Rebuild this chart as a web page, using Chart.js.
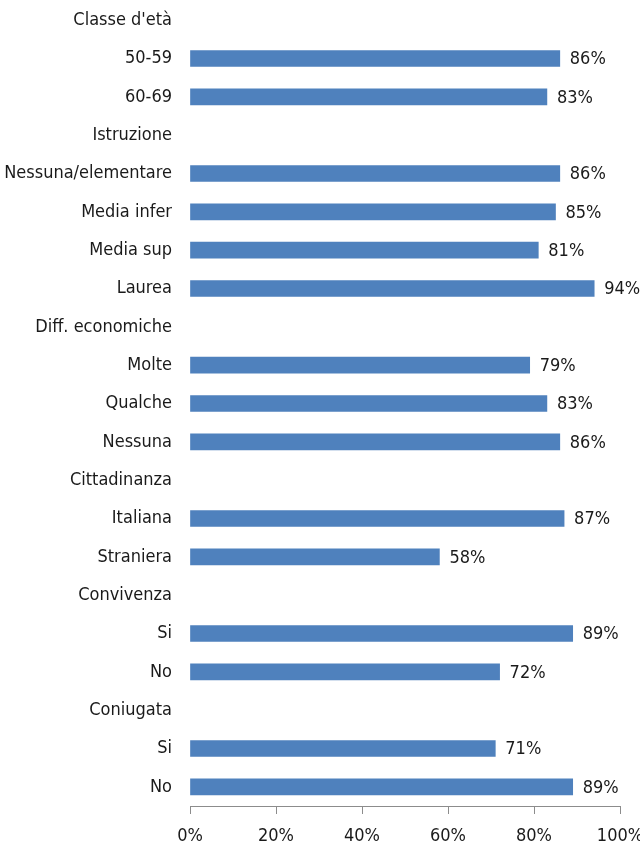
<!DOCTYPE html>
<html>
<head>
<meta charset="utf-8">
<script src="https://cdn.jsdelivr.net/npm/chart.js@4"></script>
<style>
  body { margin: 0; background: #fff; }
  canvas { display: block; }
</style>
</head>
<body>
<canvas id="myGraphic" width="640" height="854"></canvas>
<script>
// categories (group headers have no bar)
const labels = [
	"Classe d'età", "50-59", "60-69",
	"Istruzione", "Nessuna/elementare", "Media infer", "Media sup", "Laurea",
	"Diff. economiche", "Molte", "Qualche", "Nessuna",
	"Cittadinanza", "Italiana", "Straniera",
	"Convivenza", "Si", "No",
	"Coniugata", "Si", "No",
];
const values = [
	null, 86, 83,
	null, 86, 85, 81, 94,
	null, 79, 83, 86,
	null, 87, 58,
	null, 89, 72,
	null, 71, 89,
];
const xTicks = [0, 20, 40, 60, 80, 100];

const fontFamily = "'DejaVu Sans Condensed', 'Liberation Sans Narrow', sans-serif";
const textColor = "#1a1a1a";

const valueLabels = {
	id: "valueLabels",
	afterDatasetsDraw(chart) {
		const { ctx } = chart;
		const meta = chart.getDatasetMeta(0);
		ctx.save();
		ctx.font = "18px " + fontFamily;
		ctx.fillStyle = textColor;
		ctx.textAlign = "left";
		ctx.textBaseline = "middle";
		meta.data.forEach((bar, i) => {
			if (values[i] == null) return;
			ctx.fillText(values[i] + "%", bar.x + 10, bar.y + 1);
		});
		ctx.restore();
	},
};

const ctx = document.getElementById("myGraphic").getContext("2d");
const myGraphic = new Chart(ctx, {
	type: "bar",
	data: {
		labels,
		datasets: [
			{
				data: values,
				backgroundColor: "#4F81BD",
				borderWidth: 0,
				barThickness: 16,
			},
		],
	},
	options: {
		indexAxis: "y",
		responsive: false,
		animation: false,
		layout: { padding: { top: 1, right: 20, left: 0, bottom: 0 } },
		plugins: {
			legend: { display: false },
			tooltip: { enabled: false },
		},
		scales: {
			x: {
				min: 0,
				max: 100,
				afterBuildTicks: (scale) => {
					scale.ticks = xTicks.map((v) => ({ value: v }));
				},
				afterFit: (scale) => {
					scale.height = 48;
					scale.paddingLeft = 0;
					scale.paddingRight = 0;
				},
				border: { display: true, color: "#8c8c8c", width: 1 },
				grid: { drawOnChartArea: false, drawTicks: true, tickLength: 8, color: "#8c8c8c" },
				ticks: {
					padding: 12,
					maxRotation: 0,
					color: textColor,
					font: { size: 18, family: fontFamily },
					callback: (v) => v + "%",
				},
			},
			y: {
				afterFit: (scale) => {
					scale.width = 190;
					scale.paddingTop = 0;
					scale.paddingBottom = 0;
				},
				border: { display: false },
				grid: { display: false, drawTicks: false },
				ticks: {
					padding: 18,
					autoSkip: false,
					color: textColor,
					font: { size: 18, family: fontFamily },
				},
			},
		},
	},
	plugins: [valueLabels],
});
</script>
</body>
</html>
